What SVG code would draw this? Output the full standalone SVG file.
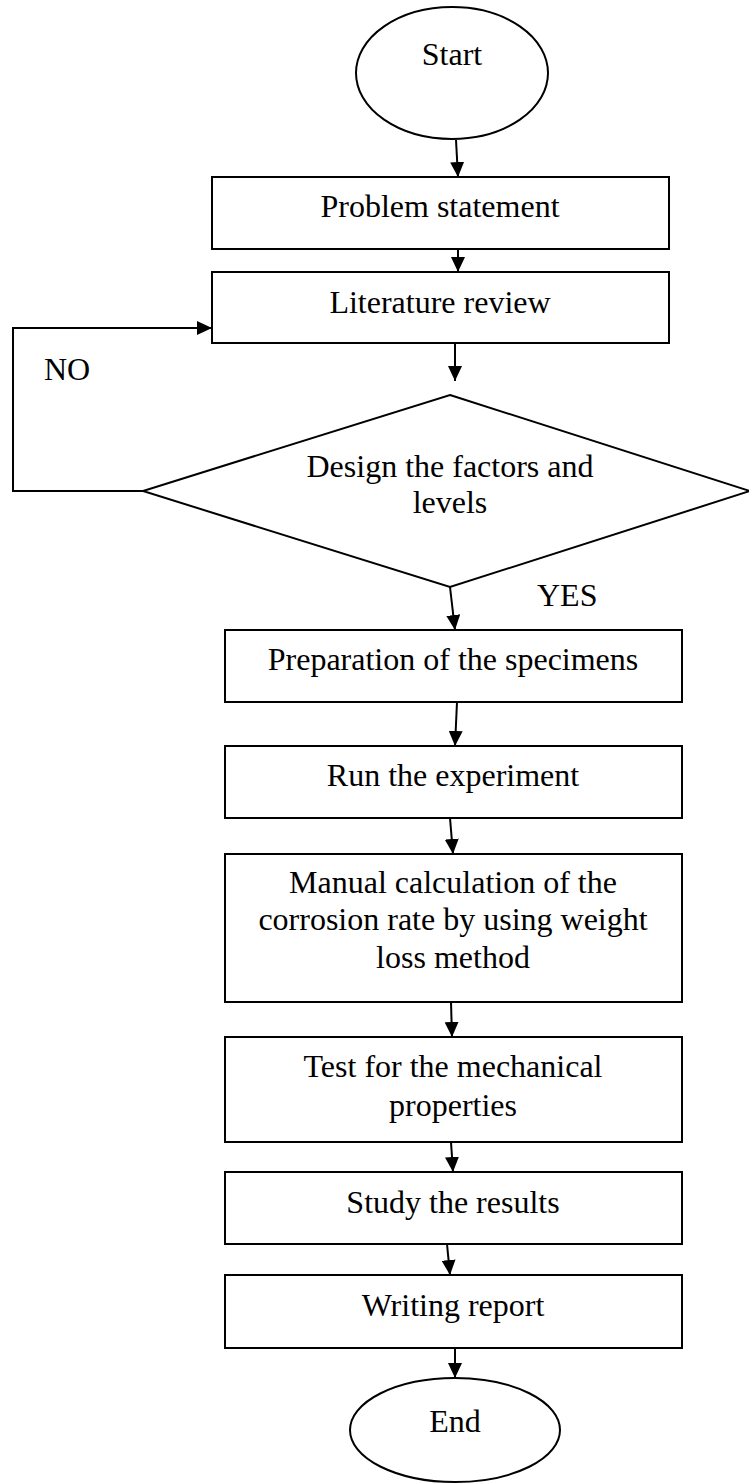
<svg xmlns="http://www.w3.org/2000/svg" width="749" height="1483" viewBox="0 0 749 1483">
<style>
.shape{fill:#fff;stroke:#000;stroke-width:2}
.lbl{font-family:"Liberation Serif","Times New Roman",serif;font-size:32px;fill:#000;text-anchor:middle}
.free{font-family:"Liberation Serif","Times New Roman",serif;font-size:32px;fill:#000}
.conn{fill:none;stroke:#000;stroke-width:2}
</style>
<defs>
<marker id="arr" markerUnits="userSpaceOnUse" markerWidth="15" markerHeight="14" refX="15" refY="7" orient="auto">
<path d="M0,0 L15,7 L0,14 z" fill="#000"/>
</marker>
</defs>
<rect width="749" height="1483" fill="#fff"/>
<g id="connectors">
<line class="conn" x1="456" y1="140" x2="458" y2="177" marker-end="url(#arr)"/>
<line class="conn" x1="458" y1="249" x2="458" y2="272" marker-end="url(#arr)"/>
<line class="conn" x1="455" y1="343" x2="455" y2="381" marker-end="url(#arr)"/>
<polyline class="conn" points="143,491 13,491 13,328 212,328" marker-end="url(#arr)"/>
<line class="conn" x1="450" y1="587" x2="455" y2="630" marker-end="url(#arr)"/>
<line class="conn" x1="457" y1="702" x2="455" y2="746" marker-end="url(#arr)"/>
<line class="conn" x1="450" y1="818" x2="453" y2="854" marker-end="url(#arr)"/>
<line class="conn" x1="451" y1="1002" x2="452" y2="1037" marker-end="url(#arr)"/>
<line class="conn" x1="451" y1="1142" x2="453" y2="1172" marker-end="url(#arr)"/>
<line class="conn" x1="447" y1="1244" x2="450" y2="1275" marker-end="url(#arr)"/>
<line class="conn" x1="455" y1="1348" x2="455" y2="1378" marker-end="url(#arr)"/>
<text class="free" x="44" y="380">NO</text>
<text class="free" x="537" y="606">YES</text>
</g>
<g id="start">
<ellipse class="shape" cx="452" cy="73" rx="96" ry="66"/>
<text class="lbl" x="452" y="65">Start</text>
</g>
<g id="problem">
<rect class="shape" x="212" y="177" width="457" height="72"/>
<text class="lbl" x="440" y="217">Problem statement</text>
</g>
<g id="literature">
<rect class="shape" x="212" y="272" width="457" height="71"/>
<text class="lbl" x="440" y="313">Literature review</text>
</g>
<g id="design">
<polygon class="shape" points="450,395 750,491 450,587 143,491"/>
<text class="lbl" x="450" y="477">Design the factors and</text>
<text class="lbl" x="450" y="513">levels</text>
</g>
<g id="preparation">
<rect class="shape" x="225" y="630" width="457" height="72"/>
<text class="lbl" x="453" y="670">Preparation of the specimens</text>
</g>
<g id="run">
<rect class="shape" x="225" y="746" width="457" height="72"/>
<text class="lbl" x="453" y="786">Run the experiment</text>
</g>
<g id="manual">
<rect class="shape" x="225" y="854" width="457" height="148"/>
<text class="lbl" x="453" y="893">Manual calculation of the</text>
<text class="lbl" x="453" y="930">corrosion rate by using weight</text>
<text class="lbl" x="453" y="968">loss method</text>
</g>
<g id="test">
<rect class="shape" x="225" y="1037" width="457" height="105"/>
<text class="lbl" x="453" y="1077">Test for the mechanical</text>
<text class="lbl" x="453" y="1116">properties</text>
</g>
<g id="study">
<rect class="shape" x="225" y="1172" width="457" height="72"/>
<text class="lbl" x="453" y="1213">Study the results</text>
</g>
<g id="writing">
<rect class="shape" x="225" y="1275" width="457" height="73"/>
<text class="lbl" x="453" y="1316">Writing report</text>
</g>
<g id="end">
<ellipse class="shape" cx="455" cy="1430" rx="105" ry="52"/>
<text class="lbl" x="455" y="1432">End</text>
</g>
</svg>
